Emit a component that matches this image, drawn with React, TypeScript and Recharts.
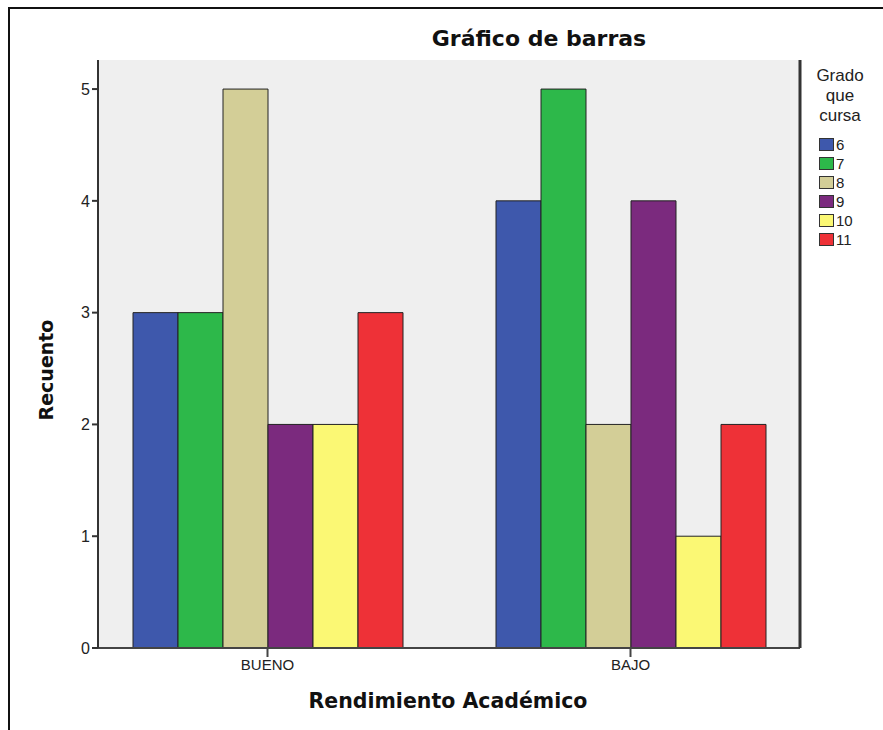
import React from 'react'
import { BarChart, Bar, XAxis, YAxis, CartesianGrid } from 'recharts'

const categories = ['BUENO', 'BAJO']
const grades = ['6', '7', '8', '9', '10', '11']
const grade6 = [3, 4]
const grade7 = [3, 5]
const grade8 = [5, 2]
const grade9 = [2, 4]
const grade10 = [2, 1]
const grade11 = [3, 2]
const yTicks = [0, 1, 2, 3, 4, 5]

const series = [grade6, grade7, grade8, grade9, grade10, grade11]
const COLORS = ['#3E58AC', '#2DB84A', '#D3CE97', '#7B2A7E', '#FBF874', '#EE3137']

const FONT = '"DejaVu Sans", "Liberation Sans", Arial, sans-serif'
const TICK_FONT = '"Liberation Sans", Arial, sans-serif'
const Y_MAX = 5.26

const data = categories.map((cat, i) => {
  const row: Record<string, any> = { cat }
  grades.forEach((g, j) => {
    row['g' + g] = series[j][i]
  })
  return row
})

// legend drawn beside the plot, same order as the series
function GradeLegend() {
  return (
    <div style={{ position: 'absolute', left: 803, top: 66, width: 80, fontFamily: TICK_FONT, color: '#222' }}>
      <div style={{ textAlign: 'center', fontSize: 17, lineHeight: '20px', width: 74 }}>
        Grado<br />que<br />cursa
      </div>
      <div style={{ marginTop: 9, marginLeft: 16 }}>
        {grades.map((g, j) => (
          <div key={g} style={{ display: 'flex', alignItems: 'center', height: 19 }}>
            <span
              style={{
                display: 'inline-block',
                width: 13,
                height: 11,
                background: COLORS[j],
                border: '1px solid #333',
                marginRight: 2,
              }}
            />
            <span style={{ fontSize: 15 }}>{g}</span>
          </div>
        ))}
      </div>
    </div>
  )
}

export default function App() {
  return (
    <div style={{ position: 'absolute', left: 0, top: 0, width: 883, height: 730, background: '#fff', overflow: 'hidden' }}>
      <div
        style={{
          position: 'absolute',
          left: 8,
          top: 7,
          right: -10,
          bottom: -10,
          borderTop: '2px solid #111',
          borderLeft: '2px solid #111',
        }}
      />
      <div style={{ position: 'absolute', left: 0, top: 0 }}>
        <BarChart
          width={883}
          height={730}
          data={data}
          margin={{ top: 60, right: 81, bottom: 52, left: 38 }}
          barGap={0}
        >
          <CartesianGrid fill="#EFEFEF" horizontal={false} vertical={false} />
          <XAxis
            dataKey="cat"
            height={30}
            padding={{ left: -12, right: -12 }}
            axisLine={{ stroke: '#444', strokeWidth: 2 }}
            tickLine={{ stroke: '#444', strokeWidth: 2 }}
            tickSize={9}
            tick={{ fontSize: 15, fill: '#222', fontFamily: TICK_FONT }}
          />
          <XAxis
            xAxisId="top"
            dataKey="cat"
            orientation="top"
            height={0}
            tick={false}
            tickLine={false}
            axisLine={{ stroke: '#999', strokeWidth: 2 }}
          />
          <YAxis
            width={60}
            domain={[0, Y_MAX]}
            ticks={yTicks}
            allowDecimals={false}
            axisLine={{ stroke: '#333', strokeWidth: 2 }}
            tickLine={{ stroke: '#333', strokeWidth: 2 }}
            tickSize={6}
            tick={{ fontSize: 16, fill: '#222', fontFamily: TICK_FONT }}
          />
          <YAxis
            yAxisId="right"
            orientation="right"
            width={2}
            domain={[0, Y_MAX]}
            tick={false}
            tickLine={false}
            axisLine={{ stroke: '#333', strokeWidth: 3 }}
          />
          {grades.map((g, j) => (
            <Bar
              key={g}
              dataKey={'g' + g}
              name={g}
              fill={COLORS[j]}
              stroke="#222"
              strokeWidth={1}
              barSize={45}
              isAnimationActive={false}
            />
          ))}
        </BarChart>
      </div>
      <GradeLegend />
      <div
        style={{
          position: 'absolute',
          left: 339,
          top: 26,
          width: 400,
          textAlign: 'center',
          fontFamily: FONT,
          fontWeight: 'bold',
          fontSize: 22,
          color: '#111',
        }}
      >
        Gráfico de barras
      </div>
      <div
        style={{
          position: 'absolute',
          left: 46,
          top: 370,
          transform: 'translate(-50%, -50%) rotate(-90deg)',
          fontFamily: FONT,
          fontWeight: 'bold',
          fontSize: 19,
          color: '#111',
          whiteSpace: 'nowrap',
        }}
      >
        Recuento
      </div>
      <div
        style={{
          position: 'absolute',
          left: 248,
          top: 689,
          width: 400,
          textAlign: 'center',
          fontFamily: FONT,
          fontWeight: 'bold',
          fontSize: 20.5,
          color: '#111',
        }}
      >
        Rendimiento Académico
      </div>
    </div>
  )
}
